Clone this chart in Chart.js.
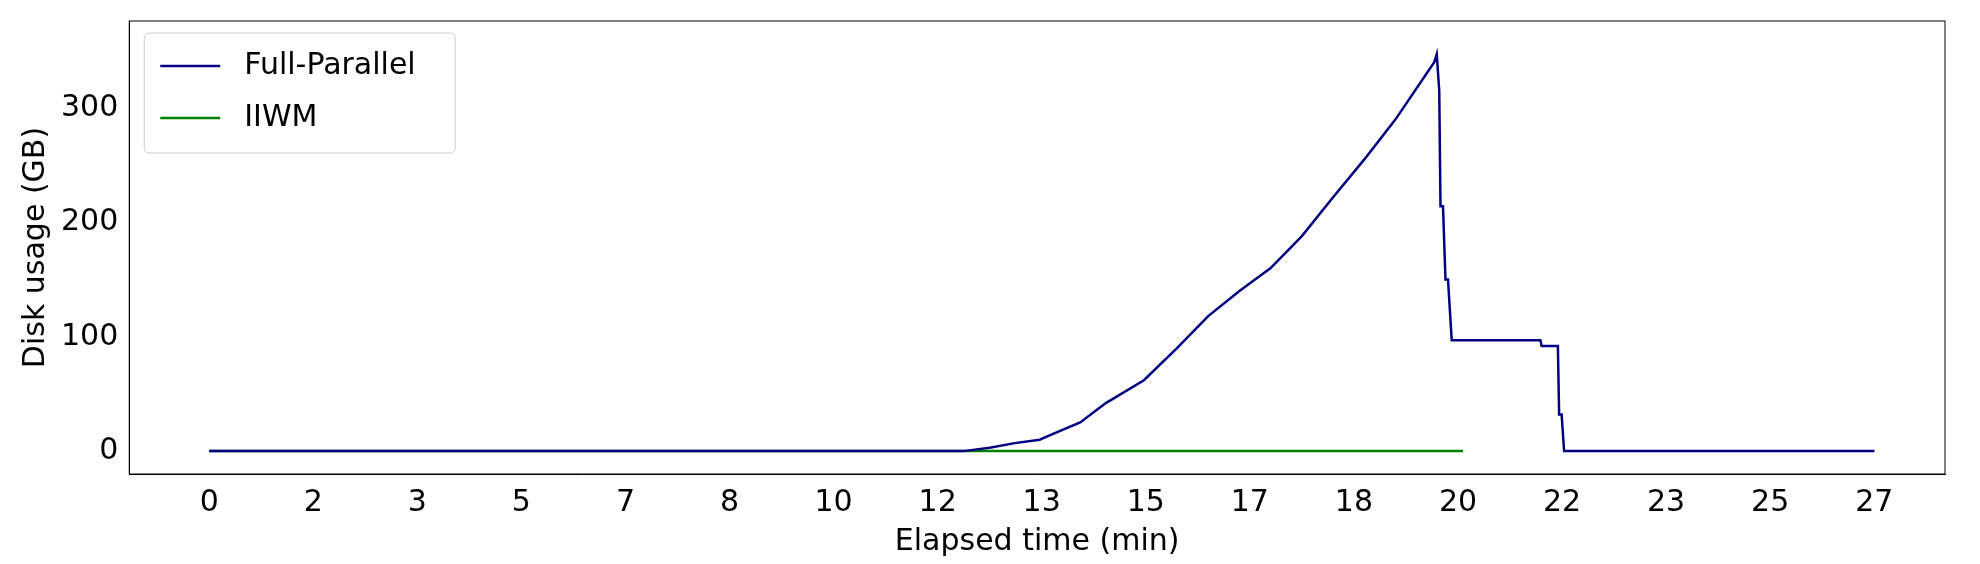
<!DOCTYPE html>
<html><head>
<script src="https://cdn.jsdelivr.net/npm/chart.js@4"></script>
<style>body{margin:0;background:#fff}#wrap{width:1980px;height:564px}</style>
</head><body>
<div id="wrap"><canvas id="c"></canvas></div>
<script>
// minutes, GB
const fullX = [0, 12.08, 12.5, 12.9, 13.3, 13.6, 13.95, 14.36, 14.97, 15.5, 16.0, 16.5, 17.0, 17.5, 18.0, 18.5, 19.0, 19.62, 19.66, 19.70, 19.72, 19.76, 19.80, 19.84, 19.90, 21.32, 21.34, 21.60, 21.62, 21.66, 21.70, 26.67];
const fullY = [0, 0, 3, 7, 10, 17, 25, 42, 62, 90, 118, 140, 160, 188, 222, 255, 290, 340, 347, 315, 214, 214, 150, 150, 97, 97, 92, 92, 32, 32, 0, 0];
const iiwmX = [0, 20.08];
const iiwmY = [0, 0];
const xTicks = [0, 5/3, 10/3, 5, 20/3, 25/3, 10, 35/3, 40/3, 15, 50/3, 55/3, 20, 65/3, 70/3, 25, 80/3];
const yTicks = [0, 100, 200, 300];

const series = [
  {label: 'Full-Parallel', xs: fullX, ys: fullY, color: '#000080'},
  {label: 'IIWM', xs: iiwmX, ys: iiwmY, color: '#008000'}
];

const legendBox = {
  id: 'legendBox',
  afterDraw(chart) {
    const ctx = chart.ctx, a = chart.chartArea;
    const x = a.left + 15, y = a.top + 12, w = 311, h = 120;
    ctx.save();
    ctx.fillStyle = 'rgba(255,255,255,0.8)';
    ctx.strokeStyle = '#ccc';
    ctx.lineWidth = 1;
    ctx.beginPath(); ctx.roundRect(x, y, w, h, 5); ctx.fill(); ctx.stroke();
    ctx.font = '30px "DejaVu Sans"';
    ctx.textBaseline = 'middle';
    series.forEach((s, i) => {
      const yy = y + 33 + i * 52;
      ctx.strokeStyle = s.color; ctx.lineWidth = 2.5;
      ctx.beginPath(); ctx.moveTo(x + 16, yy); ctx.lineTo(x + 76, yy); ctx.stroke();
      ctx.fillStyle = '#000';
      ctx.fillText(s.label, x + 100, yy);
    });
    ctx.restore();
  }
};

new Chart(document.getElementById('c'), {
  type: 'line',
  data: {
    datasets: series.map(s => ({
      label: s.label,
      data: s.xs.map((v, i) => ({x: v, y: s.ys[i]})),
      borderColor: s.color,
      borderWidth: 2.5,
      pointRadius: 0,
      tension: 0
    }))
  },
  options: {
    responsive: true,
    maintainAspectRatio: false,
    animation: false,
    layout: {padding: {top: 15, right: 35, left: 14, bottom: 4}},
    plugins: {legend: {display: false}, tooltip: {enabled: false}},
    scales: {
      x: {
        type: 'linear', min: -1.28, max: 27.8,
        grid: {display: false},
        border: {color: '#000', width: 1},
        afterBuildTicks: ax => { ax.ticks = xTicks.map(v => ({value: v})); },
        ticks: {color: '#000', font: {size: 30, family: 'DejaVu Sans'}, maxRotation: 0, autoSkip: false,
          callback: v => Math.round(v)},
        title: {display: true, text: 'Elapsed time (min)', color: '#000', font: {size: 30, family: 'DejaVu Sans'}, padding: 0}
      },
      y: {
        min: -20, max: 376,
        grid: {display: false},
        border: {color: '#000', width: 1},
        afterBuildTicks: ax => { ax.ticks = yTicks.map(v => ({value: v})); },
        ticks: {color: '#000', font: {size: 30, family: 'DejaVu Sans'}},
        title: {display: true, text: 'Disk usage (GB)', color: '#000', font: {size: 30, family: 'DejaVu Sans'}}
      }
    }
  },
  plugins: [legendBox, {
    id: 'frame',
    afterDraw(chart) {
      const ctx = chart.ctx, a = chart.chartArea;
      ctx.save(); ctx.strokeStyle = '#000'; ctx.lineWidth = 1;
      ctx.strokeRect(a.left, a.top, a.right - a.left, a.bottom - a.top);
      ctx.restore();
    }
  }]
});
</script>
</body></html>
